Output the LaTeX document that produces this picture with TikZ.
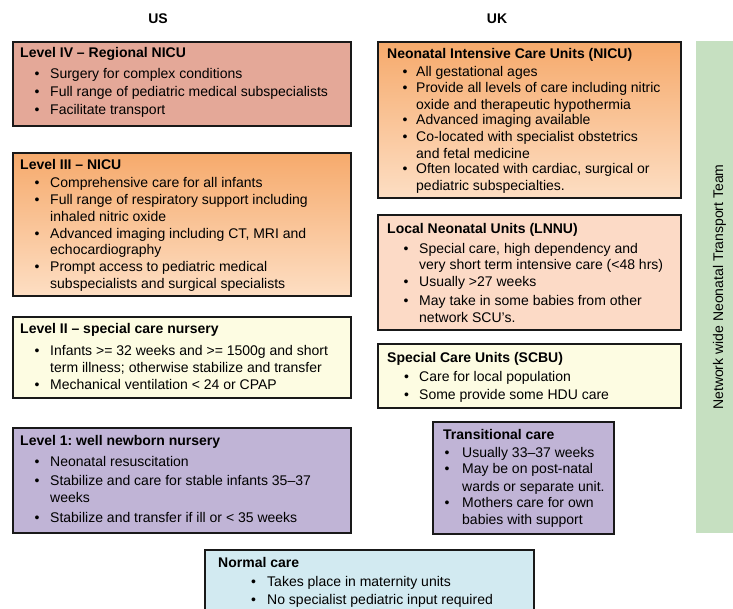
\documentclass[tikz,border=0pt]{standalone}
\usepackage{fontspec}
\setmainfont{Liberation Sans}
\usetikzlibrary{shadings}
\frenchspacing
\definecolor{cfour}{RGB}{228,168,152}
\definecolor{otop}{RGB}{246,170,108}
\definecolor{obot}{RGB}{253,222,195}
\definecolor{cpeach}{RGB}{252,218,198}
\definecolor{cyel}{RGB}{253,252,226}
\definecolor{cpur}{RGB}{192,180,214}
\definecolor{cblue}{RGB}{210,234,241}
\definecolor{cgreen}{RGB}{198,224,193}
\tikzset{
  box/.style={draw=black!90, line width=1.5pt, rectangle, inner sep=0, anchor=north west},
  ograd/.style={top color=otop, bottom color=obot},
  txt/.style={anchor=base west, inner sep=0, font=\fontsize{14}{16}\selectfont\frenchspacing},
  hd/.style={txt, font=\fontsize{14}{16}\selectfont\bfseries\frenchspacing},
}
\newcommand\bline[5]{\node[txt] (#1-b) at (#2,#4) {\textbullet}; \node[txt] (#1) at (#3,#4) {#5};}
\newcommand\contline[4]{\node[txt] (#1) at (#2,#3) {#4};}
\begin{document}
\begin{tikzpicture}[x=1pt,y=-1pt]
\useasboundingbox (0,0) rectangle (733,608);
\clip (0,0) rectangle (733,608);
% titles
\node[hd, anchor=base] (us) at (158,23) {US};
\node[hd, anchor=base] (uk) at (497,23) {UK};
% green band
\node[rectangle, fill=cgreen, inner sep=0, minimum width=50, minimum height=492, anchor=north west] (band) at (696,41) {};
\node[rotate=90, inner sep=0, font=\fontsize{14}{16}\selectfont] (bandtxt) at (719.5,287) {Network wide Neonatal Transport Team};
% ---- US boxes
\node[box, fill=cfour, minimum width=338, minimum height=84] (iv) at (12,41) {};
\node[hd] (iv-h) at (20,57) {Level IV – Regional NICU};
\bline{iv1}{34.5}{50}{78}{Surgery for complex conditions}
\bline{iv2}{34.5}{50}{96}{Full range of pediatric medical subspecialists}
\bline{iv3}{34.5}{50}{114}{Facilitate transport}

\node[box, ograd, minimum width=338, minimum height=143] (iii) at (12,152) {};
\node[hd] (iii-h) at (20,169) {Level III – NICU};
\bline{iii1}{34.5}{50}{187}{Comprehensive care for all infants}
\bline{iii2}{34.5}{50}{204}{Full range of respiratory support including}
\contline{iii2c}{50}{221}{inhaled nitric oxide}
\bline{iii3}{34.5}{50}{238}{Advanced imaging including CT, MRI and}
\contline{iii3c}{50}{254}{echocardiography}
\bline{iii4}{34.5}{50}{271}{Prompt access to pediatric medical}
\contline{iii4c}{50}{288}{subspecialists and surgical specialists}

\node[box, fill=cyel, minimum width=338, minimum height=81] (ii) at (12,316) {};
\node[hd] (ii-h) at (20,333) {Level II – special care nursery};
\bline{ii1}{34.5}{50}{355}{Infants >= 32 weeks and >= 1500g and short}
\contline{ii1c}{50}{372}{term illness; otherwise stabilize and transfer}
\bline{ii2}{34.5}{50}{389}{Mechanical ventilation < 24 or CPAP}

\node[box, fill=cpur, minimum width=338, minimum height=105] (i) at (12,427) {};
\node[hd] (i-h) at (20,445) {Level 1: well newborn nursery};
\bline{i1}{34.5}{50}{466}{Neonatal resuscitation}
\bline{i2}{34.5}{50}{485}{Stabilize and care for stable infants 35–37}
\contline{i2c}{50}{502}{weeks}
\bline{i3}{34.5}{50}{522}{Stabilize and transfer if ill or < 35 weeks}

% ---- Normal care
\node[box, fill=cblue, minimum width=329, minimum height=75] (norm) at (204,549) {};
\node[hd] (norm-h) at (218,567) {Normal care};
\bline{n1}{251}{267}{586}{Takes place in maternity units}
\bline{n2}{251}{267}{604}{No specialist pediatric input required}

% ---- UK boxes
\node[box, ograd, minimum width=303, minimum height=156] (nicu) at (377,41) {};
\node[hd] (nicu-h) at (387,58) {Neonatal Intensive Care Units (NICU)};
\bline{u1}{402.5}{416}{76}{All gestational ages}
\bline{u2}{402.5}{416}{92}{Provide all levels of care including nitric}
\contline{u2c}{416}{109}{oxide and therapeutic hypothermia}
\bline{u3}{402.5}{416}{124}{Advanced imaging available}
\bline{u4}{402.5}{416}{141}{Co-located with specialist obstetrics}
\contline{u4c}{416}{158}{and fetal medicine}
\bline{u5}{402.5}{416}{173}{Often located with cardiac, surgical or}
\contline{u5c}{416}{190}{pediatric subspecialties.}

\node[box, fill=cpeach, minimum width=303, minimum height=115] (lnnu) at (377,214) {};
\node[hd] (lnnu-h) at (387,233) {Local Neonatal Units (LNNU)};
\bline{l1}{403.5}{419}{253}{Special care, high dependency and}
\contline{l1c}{419}{269}{very short term intensive care (<48 hrs)}
\bline{l2}{403.5}{419}{286}{Usually >27 weeks}
\bline{l3}{403.5}{419}{305}{May take in some babies from other}
\contline{l3c}{419}{322}{network SCU's.}

\node[box, fill=cyel, minimum width=303, minimum height=64] (scbu) at (377,343) {};
\node[hd] (scbu-h) at (387,362) {Special Care Units (SCBU)};
\bline{s1}{404}{419}{381}{Care for local population}
\bline{s2}{404}{419}{399}{Some provide some HDU care}

\node[box, fill=cpur, minimum width=181, minimum height=112] (trans) at (432,421) {};
\node[hd] (trans-h) at (443,439) {Transitional care};
\bline{t1}{444.5}{462}{457}{Usually 33–37 weeks}
\bline{t2}{444.5}{462}{473}{May be on post-natal}
\contline{t2c}{462}{491}{wards or separate unit.}
\bline{t3}{444.5}{462}{507}{Mothers care for own}
\contline{t3c}{462}{524}{babies with support}
\end{tikzpicture}
\end{document}
